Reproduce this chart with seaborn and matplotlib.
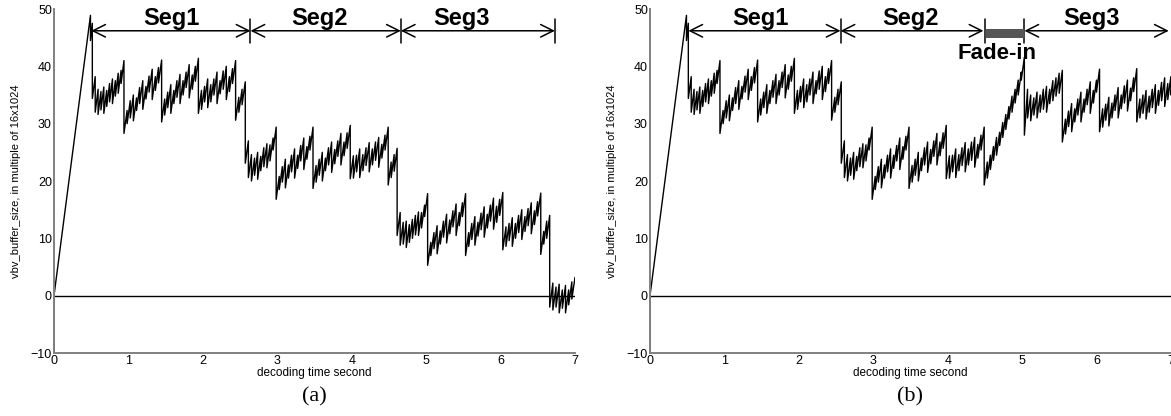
import numpy as np
import pandas as pd
import matplotlib
matplotlib.use('Agg')
import matplotlib.pyplot as plt
import seaborn as sns
from matplotlib.patches import ArrowStyle

sns.set_theme(style='white')
plt.rcParams['font.family'] = ['Liberation Sans', 'DejaVu Sans']
plt.rcParams['text.color'] = 'black'
plt.rcParams['axes.labelcolor'] = 'black'

# ---------------- data (buffer level, multiples of 16x1024) ----------------
# initial fill ramp
ramp_t = [0.0, 0.49, 0.49, 0.515]
ramp_v = [0.0, 48.9, 44.5, 47.5]

# GOP values: [trough after I, peak1, trough1, ..., peakN]
seg1_bounds = [0.515, 0.94, 1.446, 1.94, 2.44, 2.57]
seg1_gops = [
    [34.4, 38.2, 32.0, 36.0, 31.6, 35.6, 32.4, 36.4, 31.8, 35.8, 33.0, 37.0, 33.8, 37.8, 33.5, 37.5, 34.8, 38.8, 35.3, 39.3, 37.0, 41.0],
    [28.3, 32.3, 30.0, 34.0, 31.0, 35.0, 30.5, 34.5, 32.3, 36.3, 33.5, 37.5, 32.5, 36.5, 34.3, 38.3, 35.5, 39.5, 34.2, 38.2, 35.8, 39.8, 37.1, 41.1],
    [30.3, 34.3, 31.5, 35.5, 32.8, 36.8, 31.8, 35.8, 33.5, 37.5, 34.6, 38.6, 33.5, 37.5, 35.0, 39.0, 36.3, 40.3, 34.5, 38.5, 36.0, 40.0, 37.4, 41.4],
    [31.8, 35.8, 32.5, 36.5, 33.8, 37.8, 32.8, 36.8, 33.8, 37.8, 35.0, 39.0, 33.5, 37.5, 35.2, 39.2, 36.0, 40.0, 34.2, 38.2, 35.6, 39.6, 37.0, 41.0],
    [30.6, 34.6, 32.0, 36.0, 33.3, 37.3],
]
seg2_bounds = [2.57, 2.985, 3.48, 3.98, 4.49]
seg2_gops = [
    [23.1, 27.0, 20.6, 24.6, 20.0, 24.0, 21.0, 25.0, 20.3, 24.3, 21.8, 25.8, 22.5, 26.5, 22.3, 26.3, 23.5, 27.5, 25.4, 29.4],
    [16.8, 20.8, 18.5, 22.5, 19.8, 23.8, 18.8, 22.8, 20.5, 24.5, 21.6, 25.6, 20.5, 24.5, 22.2, 26.2, 23.5, 27.5, 22.0, 26.0, 23.8, 27.8, 25.4, 29.4],
    [18.7, 22.7, 19.8, 23.8, 21.0, 25.0, 20.0, 24.0, 21.8, 25.8, 22.8, 26.8, 21.5, 25.5, 23.0, 27.0, 24.3, 28.3, 22.8, 26.8, 24.4, 28.4, 25.7, 29.7],
    [20.4, 24.4, 20.5, 24.5, 21.6, 25.6, 20.6, 24.6, 21.8, 25.8, 22.7, 26.7, 21.6, 25.6, 22.8, 26.8, 23.6, 27.6, 22.4, 26.4, 24.0, 28.0, 25.4, 29.4],
]
# panel (a): plain splice
seg3a_bounds = [4.49, 4.61, 5.02, 5.53, 6.03, 6.54, 6.66, 7.0]
seg3a_gops = [
    [19.3, 23.3, 20.6, 24.6, 21.7, 25.7],
    [10.5, 14.5, 8.8, 12.8, 9.0, 13.0, 8.4, 12.4, 9.3, 13.3, 10.0, 14.0, 10.6, 14.6, 10.5, 14.5, 11.8, 15.8, 13.8, 17.8],
    [5.3, 9.3, 7.0, 11.0, 8.2, 12.2, 7.3, 11.3, 9.0, 13.0, 10.2, 14.2, 9.2, 13.2, 10.8, 14.8, 12.0, 16.0, 10.5, 14.5, 12.2, 16.2, 13.8, 17.8],
    [7.0, 11.0, 8.6, 12.6, 9.8, 13.8, 8.8, 12.8, 10.4, 14.4, 11.5, 15.5, 10.2, 14.2, 11.8, 15.8, 13.0, 17.0, 11.6, 15.6, 12.8, 16.8, 14.0, 18.0],
    [8.0, 12.0, 8.6, 12.6, 9.6, 13.6, 8.6, 12.6, 10.0, 14.0, 11.0, 15.0, 9.8, 13.8, 11.2, 15.2, 12.2, 16.2, 10.8, 14.8, 12.4, 16.4, 13.9, 17.9],
    [7.2, 11.2, 9.0, 13.0, 10.0, 14.0],
    [-2.0, 2.2, -2.5, 1.5, -2.0, 2.0, -3.0, 1.0, -2.2, 1.8, -3.0, 1.0, -1.6, 2.4, -0.6, 3.2],
]
# panel (b): splice with fade-in
seg3b_bounds = [4.49, 5.03, 5.54, 6.04, 6.54, 7.04]
seg3b_gops = [
    [19.3, 23.3, 20.5, 24.5, 22.0, 26.0, 23.6, 27.6, 24.5, 28.5, 26.2, 30.2, 27.6, 31.6, 29.0, 33.0, 30.8, 34.8, 32.0, 36.0, 33.6, 37.6, 35.0, 39.0, 37.6, 41.6],
    [28.0, 36.0, 31.0, 35.0, 30.5, 34.5, 31.5, 35.5, 31.0, 35.0, 32.0, 36.0, 32.5, 36.5, 32.0, 36.0, 33.5, 37.5, 34.0, 38.0, 34.8, 38.8, 35.3, 39.3],
    [26.8, 30.8, 28.2, 32.2, 29.5, 33.5, 28.6, 32.6, 30.3, 34.3, 31.5, 35.5, 30.3, 34.3, 32.0, 36.0, 33.3, 37.3, 31.8, 35.8, 33.6, 37.6, 35.5, 39.5],
    [28.6, 32.6, 29.4, 33.4, 30.6, 34.6, 29.6, 33.6, 31.0, 35.0, 32.3, 36.3, 31.0, 35.0, 32.6, 36.6, 33.6, 37.6, 32.2, 36.2, 34.0, 38.0, 35.6, 39.6],
    [30.3, 34.3, 31.0, 35.0, 31.8, 35.8, 30.8, 34.8, 32.0, 36.0, 32.8, 36.8, 31.8, 35.8, 33.2, 37.2, 34.0, 38.0, 33.0, 37.0, 34.2, 38.2, 35.0, 39.0],
]

x_ticks = [0, 1, 2, 3, 4, 5, 6, 7]
y_ticks = [-10, 0, 10, 20, 30, 40, 50]

# segment annotations
segs_a = [("Seg1", 0.50, 2.64, 1.58), ("Seg2", 2.64, 4.66, 3.57), ("Seg3", 4.66, 6.73, 5.48)]
bars_a = [2.64, 4.66, 6.73]
segs_b = [("Seg1", 0.515, 2.56, 1.49), ("Seg2", 2.56, 4.48, 3.50), ("Seg3", 5.03, 6.97, 5.93)]
bars_b = [2.56, 4.50, 5.03]
fade_b = (4.50, 5.03)


def gop_curve(bounds, gops):
    xs, ys = [], []
    for (t0, t1), vals in zip(zip(bounds[:-1], bounds[1:]), gops):
        n = len(vals) // 2
        times = np.linspace(t0, t1, n + 1)
        xs += [times[0]] + [times[k] for k in range(1, n) for _ in (0, 1)] + [times[n]]
        ys += list(vals)
    return xs, ys


def build(seg3_bounds, seg3_gops):
    xs, ys = list(ramp_t), list(ramp_v)
    for b, g in ((seg1_bounds, seg1_gops), (seg2_bounds, seg2_gops), (seg3_bounds, seg3_gops)):
        x, y = gop_curve(b, g)
        xs += x
        ys += y
    return pd.DataFrame({"t": xs, "v": ys})


df_a = build(seg3a_bounds, seg3a_gops)
df_b = build(seg3b_bounds, seg3b_gops)

fig = plt.figure(figsize=(11.71, 4.16), dpi=100)
ax_a = fig.add_axes([54 / 1171, 63 / 416, 521 / 1171, 344 / 416])
ax_b = fig.add_axes([650 / 1171, 63 / 416, 521 / 1171, 344 / 416])

grey = '#808080'
arrow_style = ArrowStyle('<->', head_length=0.9, head_width=0.45)

for ax, df, segs, bars, cap in ((ax_a, df_a, segs_a, bars_a, '(a)'), (ax_b, df_b, segs_b, bars_b, '(b)')):
    sns.lineplot(data=df, x="t", y="v", sort=False, estimator=None, color='black',
                 linewidth=1.0, ax=ax)
    ax.plot([0, 7], [0, 0], color='black', linewidth=1.0)
    ax.plot([0, 0], [-10, 0], color='black', linewidth=1.4)
    ax.set_xlim(0, 7)
    ax.set_ylim(-10, 50)
    ax.set_xticks(x_ticks)
    ax.set_yticks(y_ticks)
    ax.set_xticklabels([str(v) for v in x_ticks])
    ax.set_yticklabels(['\u221210' if v < 0 else str(v) for v in y_ticks])
    for s in ('top', 'right'):
        ax.spines[s].set_visible(False)
    for s in ('left', 'bottom'):
        ax.spines[s].set_color(grey)
        ax.spines[s].set_linewidth(1.4)
    ax.tick_params(direction='in', length=3, width=1, color=grey, labelsize=9, pad=1.5,
                   labelcolor='black')
    ax.set_xlabel('decoding time second', fontsize=8.5, labelpad=0)
    ax.set_ylabel('vbv_buffer_size, in multiple of 16x1024', fontsize=8)
    ax.yaxis.set_label_coords(-0.064, 0.5)
    ax.patch.set_alpha(0)
    for name, x0, x1, xc in segs:
        ax.annotate('', xy=(x1, 46.2), xytext=(x0, 46.2),
                    arrowprops=dict(arrowstyle=arrow_style, color='black', lw=1.1,
                                    shrinkA=0, shrinkB=0, mutation_scale=10),
                    annotation_clip=False)
        ax.text(xc, 47.2, name, ha='center', va='baseline', fontsize=17,
                fontweight='bold', clip_on=False)
    for xb in bars:
        ax.plot([xb, xb], [44.0, 48.3], color='black', linewidth=1.1, clip_on=False)

ax_b.plot(list(fade_b), [45.8, 45.8], color='#555555', linewidth=6.5, solid_capstyle='butt')
ax_b.text(4.66, 41.2, 'Fade-in', ha='center', va='baseline', fontsize=16, fontweight='bold')

fig.text(314 / 1171, 1 - 397 / 416, '(a)', ha='center', va='center', fontsize=16,
         family=['Liberation Serif', 'DejaVu Serif'])
fig.text(910 / 1171, 1 - 397 / 416, '(b)', ha='center', va='center', fontsize=16,
         family=['Liberation Serif', 'DejaVu Serif'])

fig.savefig('out.png', dpi=100)
